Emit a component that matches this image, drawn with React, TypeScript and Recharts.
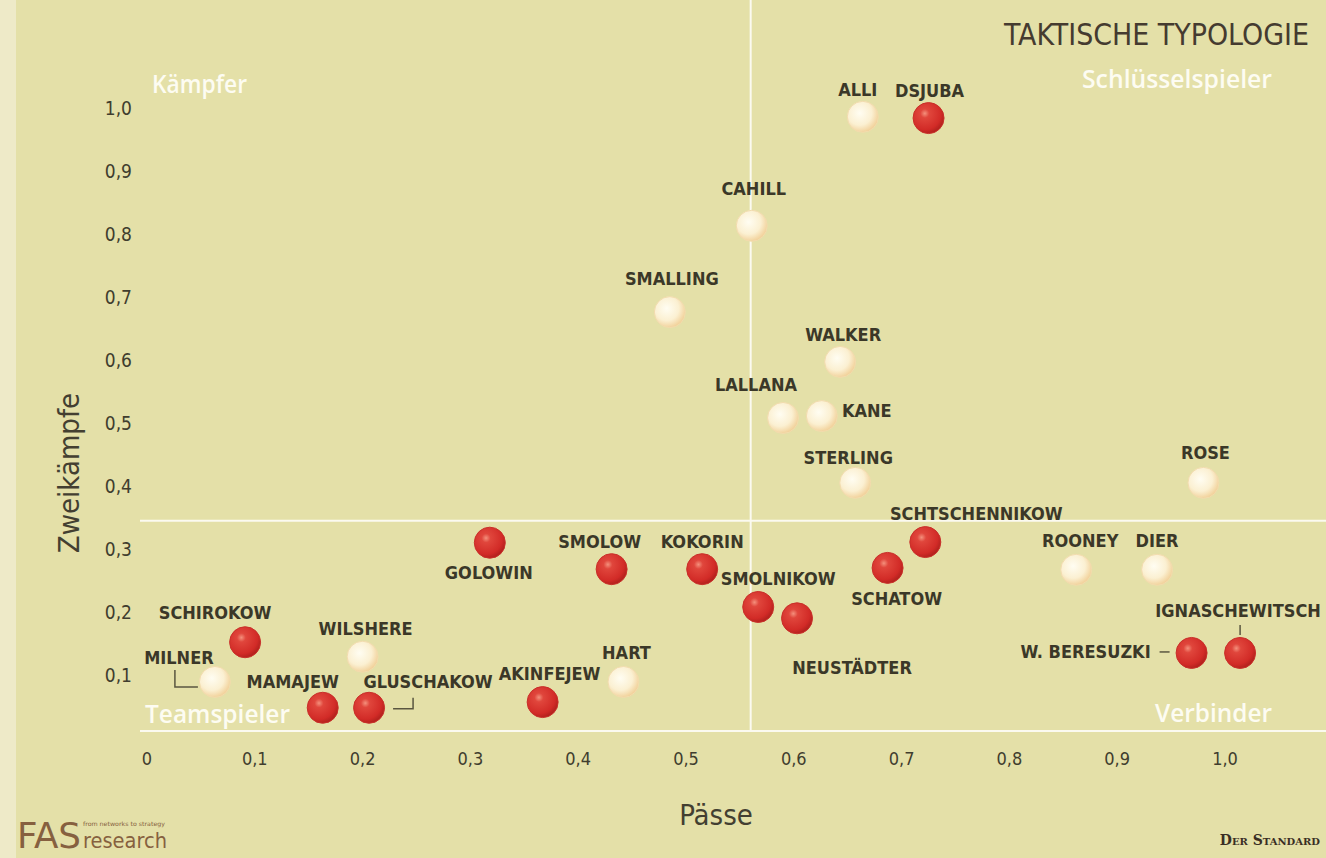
import { ScatterChart, Scatter, XAxis, YAxis, ReferenceLine } from 'recharts';

// Russia (red) and England (cream), share of passes vs. share of duels
const russiaNames = [
  'DSJUBA', 'SCHTSCHENNIKOW', 'GOLOWIN', 'SMOLOW', 'KOKORIN', 'SCHATOW', 'SMOLNIKOW',
  'NEUSTÄDTER', 'SCHIROKOW', 'MAMAJEW', 'GLUSCHAKOW', 'AKINFEJEW', 'W. BERESUZKI', 'IGNASCHEWITSCH',
];
const russiaPasses = [0.725, 0.722, 0.318, 0.431, 0.515, 0.687, 0.567, 0.603, 0.091, 0.163, 0.206, 0.367, 0.969, 1.014];
const russiaDuels = [0.984, 0.311, 0.31, 0.268, 0.268, 0.27, 0.208, 0.19, 0.152, 0.048, 0.048, 0.057, 0.135, 0.135];

const englandNames = [
  'ALLI', 'CAHILL', 'SMALLING', 'WALKER', 'LALLANA', 'KANE', 'STERLING', 'ROSE',
  'ROONEY', 'DIER', 'WILSHERE', 'MILNER', 'HART',
];
const englandPasses = [0.664, 0.561, 0.485, 0.643, 0.59, 0.626, 0.657, 0.98, 0.862, 0.937, 0.2, 0.063, 0.442];
const englandDuels = [0.986, 0.813, 0.676, 0.597, 0.508, 0.511, 0.405, 0.405, 0.267, 0.267, 0.129, 0.089, 0.089];

const xTicks = [0, 0.1, 0.2, 0.3, 0.4, 0.5, 0.6, 0.7, 0.8, 0.9, 1.0];
const yTicks = [0.1, 0.2, 0.3, 0.4, 0.5, 0.6, 0.7, 0.8, 0.9, 1.0];
const passSplit = 0.56;
const duelSplit = 0.345;

const russia = russiaNames.map((name, i) => ({ name, x: russiaPasses[i], y: russiaDuels[i] }));
const england = englandNames.map((name, i) => ({ name, x: englandPasses[i], y: englandDuels[i] }));

// label placement: offset of label centre from the dot, plus optional leader line
const labelPos: Record<string, { dx: number; dy: number; lead?: string }> = {
  ALLI: { dx: -5, dy: -27 },
  DSJUBA: { dx: 1, dy: -28 },
  CAHILL: { dx: 2, dy: -37 },
  SMALLING: { dx: 2, dy: -34 },
  WALKER: { dx: 3, dy: -27 },
  LALLANA: { dx: -27, dy: -33 },
  KANE: { dx: 45, dy: -6 },
  STERLING: { dx: -7, dy: -25 },
  ROSE: { dx: 2, dy: -30 },
  SCHTSCHENNIKOW: { dx: 51, dy: -29 },
  ROONEY: { dx: 4, dy: -29 },
  DIER: { dx: 0, dy: -29 },
  GOLOWIN: { dx: -1, dy: 30 },
  SMOLOW: { dx: -12, dy: -28 },
  KOKORIN: { dx: 0, dy: -28 },
  SCHATOW: { dx: 9, dy: 31 },
  SMOLNIKOW: { dx: 20, dy: -28 },
  'NEUSTÄDTER': { dx: 55, dy: 49 },
  SCHIROKOW: { dx: -30, dy: -30 },
  WILSHERE: { dx: 3, dy: -28 },
  MILNER: { dx: -36, dy: -24, lead: 'M-40,-12 L-40,5 L-17,5' },
  MAMAJEW: { dx: -30, dy: -26 },
  GLUSCHAKOW: { dx: 59, dy: -26, lead: 'M24,1 L44,1 L44,-10' },
  AKINFEJEW: { dx: 7, dy: -29 },
  HART: { dx: 3, dy: -29 },
  'W. BERESUZKI': { dx: -106, dy: -1, lead: 'M-32,-1 L-22,-1' },
  IGNASCHEWITSCH: { dx: -2, dy: -42, lead: 'M0,-28 L0,-18' },
};

const W = 1326;
const H = 858;
const PLOT_LEFT = 140;
const PLOT_BOTTOM = 731;
const X0 = 147;
const XU = 1078;
const Y0 = 738;
const YU = 630;
const xDomain = [(PLOT_LEFT - X0) / XU, (W - X0) / XU];
const yDomain = [(Y0 - PLOT_BOTTOM) / YU, Y0 / YU];

const BG = '#e4e0a8';
const INK = '#3b3828';
const labelFont = '"DejaVu Sans Condensed", "DejaVu Sans", sans-serif';
const fmt = (v: number) => (v === 0 ? '0' : v.toFixed(1).replace('.', ','));

const makeDot = (fillId: string, stroke: string) => (props: any) => {
  const { cx, cy } = props;
  const name = props.payload?.name ?? props.name;
  const pos = labelPos[name] ?? { dx: 0, dy: -28 };
  return (
    <g>
      <circle cx={cx} cy={cy} r={15.5} fill={`url(#${fillId})`} stroke={stroke} strokeWidth={1} />
      {pos.lead && (
        <path d={pos.lead} transform={`translate(${cx},${cy})`} fill="none" stroke="#5a5640" strokeWidth={1.5} />
      )}
      <text
        x={cx + pos.dx}
        y={cy + pos.dy}
        textAnchor="middle"
        dominantBaseline="central"
        fontFamily={labelFont}
        fontWeight="bold"
        fontSize={18}
        fill={INK}
      >
        {name}
      </text>
    </g>
  );
};

export default function App() {
  return (
    <div style={{ position: 'absolute', left: 0, top: 0, width: W, height: H, background: BG, overflow: 'hidden' }}>
      <svg width={0} height={0} style={{ position: 'absolute' }}>
        <defs>
          <radialGradient id="redDot" cx="38%" cy="35%" r="65%">
            <stop offset="0%" stopColor="#f4907c" />
            <stop offset="22%" stopColor="#e0463c" />
            <stop offset="80%" stopColor="#d22b27" />
            <stop offset="100%" stopColor="#b5221e" />
          </radialGradient>
          <radialGradient id="creamDot" cx="40%" cy="38%" r="65%">
            <stop offset="0%" stopColor="#fffdf2" />
            <stop offset="60%" stopColor="#fbf0d2" />
            <stop offset="100%" stopColor="#f1cf96" />
          </radialGradient>
        </defs>
      </svg>
      <div style={{ position: 'absolute', left: 0, top: 0, width: 16, height: H, background: '#eeeac8' }} />
      <ScatterChart width={W} height={H} margin={{ top: 0, right: 0, bottom: 0, left: 0 }}>
        <XAxis
          type="number"
          dataKey="x"
          domain={xDomain}
          allowDataOverflow
          ticks={xTicks}
          tickFormatter={fmt}
          height={H - PLOT_BOTTOM}
          axisLine={{ stroke: '#fbfaf0', strokeWidth: 2 }}
          tickLine={false}
          tickSize={0}
          tickMargin={21}
          tick={{ fill: '#403d2e', fontSize: 18, fontFamily: labelFont }}
        />
        <YAxis
          type="number"
          dataKey="y"
          domain={yDomain}
          allowDataOverflow
          ticks={yTicks}
          tickFormatter={fmt}
          width={PLOT_LEFT}
          axisLine={false}
          tickLine={false}
          tickSize={0}
          tickMargin={8}
          tick={{ fill: '#403d2e', fontSize: 19, fontFamily: labelFont }}
        />
        <ReferenceLine x={passSplit} stroke="#fbfaf0" strokeWidth={2} />
        <ReferenceLine y={duelSplit} stroke="#fbfaf0" strokeWidth={2} />
        <Scatter data={england} isAnimationActive={false} shape={makeDot('creamDot', '#f2dcae')} />
        <Scatter data={russia} isAnimationActive={false} shape={makeDot('redDot', '#c9302a')} />
      </ScatterChart>
      <svg width={W} height={H} style={{ position: 'absolute', left: 0, top: 0, pointerEvents: 'none' }}>
        <text x={1004} y={45} fontFamily={labelFont} fontSize={31} fill="#453b30" textLength={305} lengthAdjust="spacingAndGlyphs">
          TAKTISCHE TYPOLOGIE
        </text>
        <g fontFamily='"Open Sans", sans-serif' fontSize={26} fontWeight={600} fill="#fdfcf2">
          <text x={152} y={93} textLength={95} lengthAdjust="spacingAndGlyphs">Kämpfer</text>
          <text x={1082} y={88} textLength={190} lengthAdjust="spacingAndGlyphs">Schlüsselspieler</text>
          <text x={145} y={723} textLength={145} lengthAdjust="spacingAndGlyphs">Teamspieler</text>
          <text x={1155} y={722} textLength={117} lengthAdjust="spacingAndGlyphs">Verbinder</text>
        </g>
        <text
          x={69}
          y={473}
          transform="rotate(-90 69 473)"
          textAnchor="middle"
          dominantBaseline="central"
          fontFamily={labelFont}
          fontSize={29}
          fill="#433f31"
        >
          Zweikämpfe
        </text>
        <text x={716} y={815} textAnchor="middle" dominantBaseline="central" fontFamily={labelFont} fontSize={29} fill="#433f31">
          Pässe
        </text>
        <text x={17} y={848} fontFamily={labelFont} fontSize={35} fill="#86603f" textLength={64} lengthAdjust="spacingAndGlyphs">
          FAS
        </text>
        <text x={83} y={848} fontFamily={labelFont} fontSize={21} fill="#86603f" textLength={84} lengthAdjust="spacingAndGlyphs">
          research
        </text>
        <text x={83} y={826} fontFamily={labelFont} fontSize={6} fill="#86603f" textLength={82} lengthAdjust="spacingAndGlyphs">
          from networks to strategy
        </text>
        <text
          x={1320}
          y={845}
          textAnchor="end"
          fontFamily='"DejaVu Serif", "Liberation Serif", serif'
          fontWeight="bold"
          fontSize={14}
          fill="#3a2e24"
          style={{ fontVariant: 'small-caps' }}
        >
          Der Standard
        </text>
      </svg>
    </div>
  );
}
